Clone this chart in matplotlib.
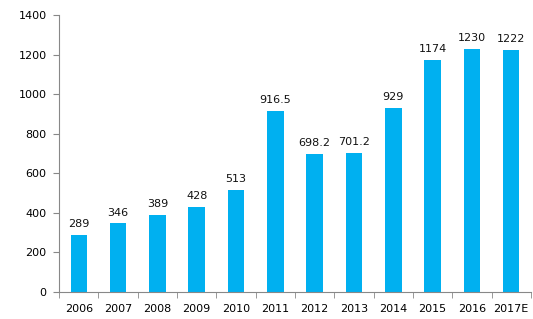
import matplotlib
matplotlib.use('Agg')
from matplotlib import pyplot as plt
import numpy as np

years = ['2006', '2007', '2008', '2009', '2010', '2011', '2012',
         '2013', '2014', '2015', '2016', '2017E']
values = [289, 346, 389, 428, 513, 916.5, 698.2, 701.2, 929, 1174, 1230, 1222]
value_labels = ['289', '346', '389', '428', '513', '916.5', '698.2',
                '701.2', '929', '1174', '1230', '1222']

plt.rcParams['font.family'] = ['DejaVu Sans']

fig = plt.figure(figsize=(5.33, 3.19), dpi=100)
ax = fig.add_axes([0.111, 0.085, 0.885, 0.868])

x = np.arange(len(years))
bars = ax.bar(x, values, width=0.42, color='#00B0F0')
for b, lab in zip(bars, value_labels):
    ax.text(b.get_x() + b.get_width() / 2, b.get_height() + 30, lab,
            ha='center', va='bottom', fontsize=8, color='#111111')

ax.set_xlim(-0.5, len(years) - 0.5)
ax.set_ylim(0, 1400)
ax.set_yticks(range(0, 1401, 200))
ax.set_xticks(x)
ax.set_xticklabels(years)
ax.set_xticks(np.arange(-0.5, len(years)), minor=True)
ax.tick_params(axis='x', which='major', length=0, pad=9, labelsize=8)
ax.tick_params(axis='x', which='minor', length=4, color='#888888', direction='out')
ax.tick_params(axis='y', length=4, color='#888888', labelsize=8, pad=5)

for side in ['top', 'right']:
    ax.spines[side].set_visible(False)
ax.spines['left'].set_color('#888888')
ax.spines['bottom'].set_color('#888888')

fig.savefig('out.png', dpi=100)
